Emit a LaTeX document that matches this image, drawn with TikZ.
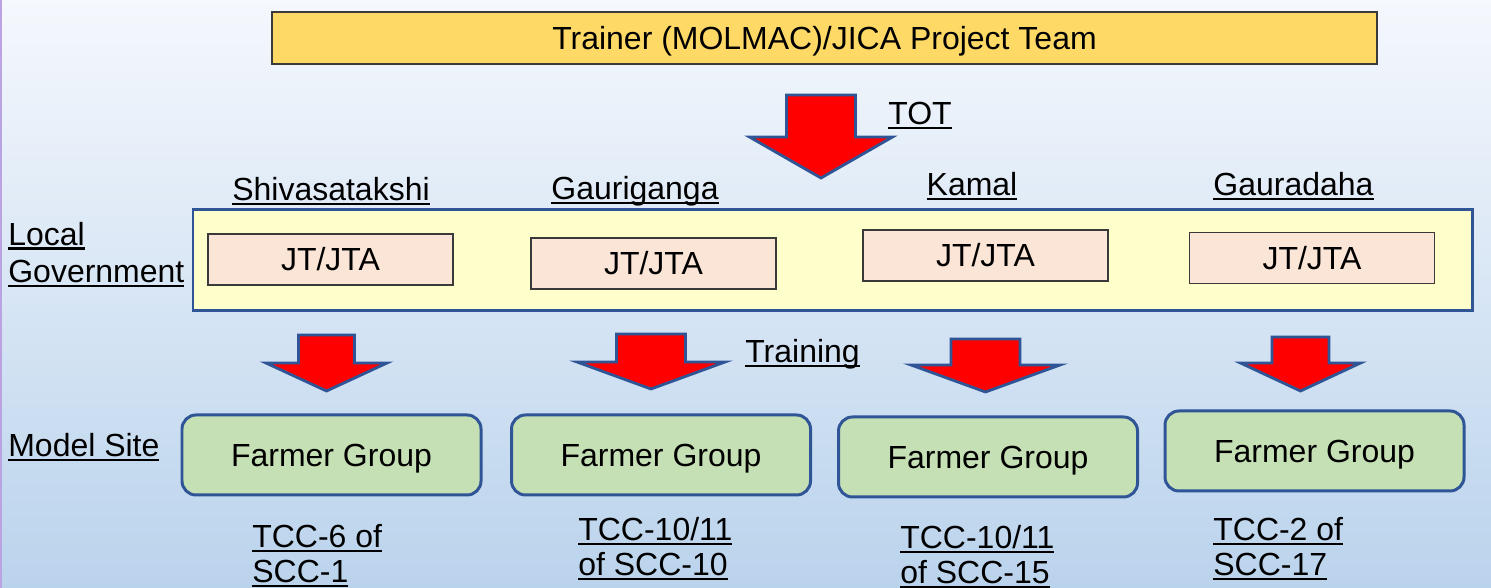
\documentclass[tikz,border=0pt]{standalone}
\usepackage{fontspec}
\setmainfont{Liberation Sans}

\definecolor{bgtop}{HTML}{F5F8FD}
\definecolor{bgbottom}{HTML}{BAD3EC}
\definecolor{leftline}{HTML}{BBA3E2}
\definecolor{edgeblue}{HTML}{2F5597}
\definecolor{edgegray}{HTML}{3A3A3A}
\definecolor{trainfill}{HTML}{FFD966}
\definecolor{govfill}{HTML}{FFFFCC}
\definecolor{jtfill}{HTML}{FBE5D6}
\definecolor{farmfill}{HTML}{C5E0B4}

% underlined text, line through the descenders
\newcommand{\ulin}[1]{\setbox0=\hbox{#1}\rlap{\rule[-0.14em]{\wd0}{0.065em}}\box0}
% block arrow: x, top, head base, tip, half shaft, half head
\newcommand{\redarrow}[6]{%
  \draw[arrowbody] (#1-#5,#2) -- (#1+#5,#2) -- (#1+#5,#3) -- (#1+#6,#3)
    -- (#1,#4) -- (#1-#6,#3) -- (#1-#5,#3) -- cycle;}

\begin{document}
\begin{tikzpicture}[
  every node/.style={font=\fontsize{18.2}{21}\selectfont},
  arrowbody/.style={fill=red, draw=edgeblue, line width=1.6pt, line join=miter},
  topbox/.style={fill=trainfill, draw=edgegray, line width=0.9pt,
    minimum width=22.1cm, minimum height=1.04cm, text depth=0pt},
  govbox/.style={fill=govfill, draw=edgeblue, line width=1.7pt,
    minimum width=25.58cm, minimum height=2.02cm},
  jtbox/.style={fill=jtfill, draw=edgegray, line width=0.9pt,
    minimum width=4.9cm, minimum height=1.02cm},
  farmbox/.style={fill=farmfill, draw=edgeblue, line width=1.7pt, rounded corners=0.28cm,
    minimum width=5.98cm, minimum height=1.6cm, text depth=0pt},
  label/.style={inner sep=0pt, anchor=base},
  sidelabel/.style={inner sep=0pt, anchor=base west, align=left},
  tcclabel/.style={inner sep=0pt, anchor=base west, align=left,
    font=\fontsize{18.2}{20}\selectfont}
]
\useasboundingbox (0,0) rectangle (29.82,11.76);
\shade[top color=bgtop, bottom color=bgbottom] (0,0) rectangle (29.82,11.76);
\draw[leftline, line width=1.2pt] (0.02,0) -- (0.02,11.76);

\node[topbox] (trainer) at (16.49,11.0) {Trainer (MOLMAC)/JICA Project Team};

%% TOT
\redarrow{16.42}{9.86}{9.02}{8.2}{0.69}{1.43}
\node[sidelabel] (tot) at (17.76,9.26) {\ulin{TOT}};

%% local government
\node[label] (shiva) at (6.62,7.74) {\ulin{Shivasatakshi}};
\node[label] (gauri) at (12.7,7.76) {\ulin{Gauriganga}};
\node[label] (kamal) at (19.44,7.84) {\ulin{Kamal}};
\node[label] (gaura) at (25.87,7.84) {\ulin{Gauradaha}};

\node[govbox] (gov) at (16.65,6.55) {};
\node[sidelabel, font=\fontsize{18.2}{21.6}\selectfont] (localgov) at (0.16,6.1)
  {\ulin{Local}\\\ulin{Government}};
\node[jtbox] (jt1) at (6.61,6.57) {JT/JTA};
\node[jtbox] (jt2) at (13.07,6.49) {JT/JTA};
\node[jtbox] (jt3) at (19.71,6.65) {JT/JTA};
\node[jtbox] (jt4) at (26.24,6.6) {JT/JTA};

%% training
\redarrow{6.53}{5.06}{4.5}{3.94}{0.56}{1.21}
\redarrow{13.02}{5.08}{4.52}{3.98}{0.69}{1.48}
\redarrow{19.71}{4.98}{4.46}{3.92}{0.69}{1.49}
\redarrow{26.01}{5.02}{4.5}{3.94}{0.57}{1.2}
\node[sidelabel] (training) at (14.9,4.5) {\ulin{Training}};

%% model site
\node[sidelabel] (model) at (0.16,2.62) {\ulin{Model Site}};
\node[farmbox] (fg1) at (6.63,2.66) {Farmer Group};
\node[farmbox] (fg2) at (13.22,2.66) {Farmer Group};
\node[farmbox] (fg3) at (19.76,2.62) {Farmer Group};
\node[farmbox] (fg4) at (26.29,2.74) {Farmer Group};

\node[tcclabel] (tcc1) at (5.04,0.1) {\ulin{TCC-6 of}\\\ulin{SCC-1}};
\node[tcclabel] (tcc2) at (11.56,0.24) {\ulin{TCC-10/11}\\\ulin{of SCC-10}};
\node[tcclabel] (tcc3) at (18.0,0.08) {\ulin{TCC-10/11}\\\ulin{of SCC-15}};
\node[tcclabel] (tcc4) at (24.26,0.24) {\ulin{TCC-2 of}\\\ulin{SCC-17}};
\end{tikzpicture}
\end{document}
